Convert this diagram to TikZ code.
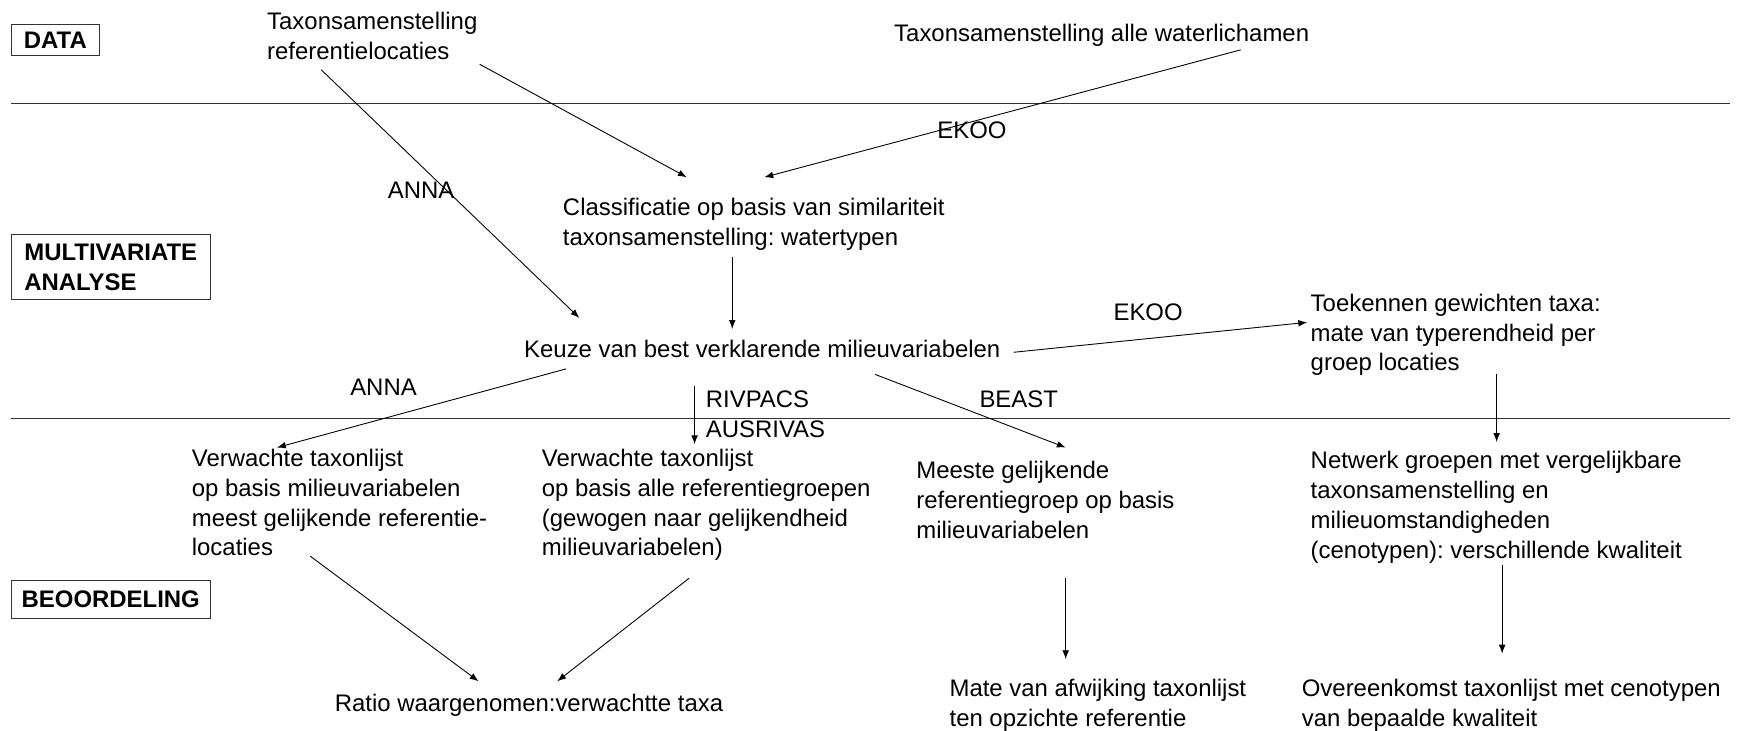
\documentclass[tikz,border=0pt]{standalone}
\usepackage{fontspec}
\setmainfont{Liberation Sans}
\usetikzlibrary{arrows.meta}
\frenchspacing
\begin{document}
\begin{tikzpicture}[x=1pt,y=-1pt,
  every node/.style={font=\fontsize{21.6}{27}\selectfont},
  txt/.style={anchor=north west,inner sep=0pt,align=left},
  lbl/.style={anchor=north west,inner sep=0pt,align=left},
  phase/.style={draw=black!80,line width=0.9pt,inner sep=0pt,align=left,font=\fontsize{21.6}{27}\selectfont\bfseries},
  sep/.style={draw=black!80,line width=0.9pt},
  arr/.style={draw=black,line width=0.8pt,-{Latex[length=8pt,width=6pt]}}]
\useasboundingbox (0,0) rectangle (1568,659);
% section lines
\coordinate (l1a) at (10,93); \coordinate (l1b) at (1562,93);
\coordinate (l2a) at (10,378); \coordinate (l2b) at (1562,378);
\draw[sep] (l1a) -- (l1b);
\draw[sep] (l2a) -- (l2b);
% phase boxes
\node[phase,minimum width=80,minimum height=28] (pdata) at (50,36) {DATA};
\node[phase,minimum width=180,minimum height=58] (pmva) at (100,241) {MULTIVARIATE\\ANALYSE};
\node[phase,minimum width=180,minimum height=34] (pbeo) at (100,541) {BEOORDELING};
% text nodes
\node[txt] (ref) at (241,11) {Taxonsamenstelling\\referentielocaties};
\node[txt] (alle) at (807,22) {Taxonsamenstelling alle waterlichamen};
\node[txt] (cls) at (508,179) {Classificatie op basis van similariteit\\taxonsamenstelling: watertypen};
\node[txt] (keuze) at (473,307) {Keuze van best verklarende milieuvariabelen};
\node[txt] (toek) at (1183,265) {Toekennen gewichten taxa:\\mate van typerendheid per\\groep locaties};
\node[txt] (v1) at (173,405) {Verwachte taxonlijst\\op basis milieuvariabelen\\meest gelijkende referentie-\\locaties};
\node[txt] (v2) at (489,405) {Verwachte taxonlijst\\op basis alle referentiegroepen\\(gewogen naar gelijkendheid\\milieuvariabelen)};
\node[txt] (meeste) at (827,416) {Meeste gelijkende\\referentiegroep op basis\\milieuvariabelen};
\node[txt] (netw) at (1183,407) {Netwerk groepen met vergelijkbare\\taxonsamenstelling en\\milieuomstandigheden\\(cenotypen): verschillende kwaliteit};
\node[txt] (ratio) at (302,626) {Ratio waargenomen:verwachtte taxa};
\node[txt] (mate) at (857,613) {Mate van afwijking taxonlijst\\ten opzichte referentie};
\node[txt] (over) at (1175,613) {Overeenkomst taxonlijst met cenotypen\\van bepaalde kwaliteit};
% method labels
\node[lbl] (ekoo1) at (846,110) {EKOO};
\node[lbl] (anna1) at (350,164) {ANNA};
\node[lbl] (ekoo2) at (1005,274) {EKOO};
\node[lbl] (anna2) at (316,342) {ANNA};
\node[lbl] (riv) at (637,353) {RIVPACS\\AUSRIVAS};
\node[lbl] (beast) at (884,353) {BEAST};
% connectors
\draw[arr] ([shift={(192,47)}]ref.north west) -- ([shift={(112,-19)}]cls.north west);
\draw[arr] ([shift={(49,52)}]ref.north west) -- ([shift={(50,-20)}]keuze.north west);
\draw[arr] ([shift={(313,23)}]alle.north west) -- ([shift={(182,-19)}]cls.north west);
\draw[arr] ([shift={(153,53)}]cls.north west) -- ([shift={(188,-10)}]keuze.north west);
\draw[arr] ([shift={(442,11)}]keuze.north west) -- ([shift={(-3,26)}]toek.north west);
\draw[arr] ([shift={(38,26)}]keuze.north west) -- ([shift={(77,-1)}]v1.north west);
\draw[arr] ([shift={(154,41)}]keuze.north west) -- ([shift={(138,-4)}]v2.north west);
\draw[arr] ([shift={(317,31)}]keuze.north west) -- ([shift={(135,-12)}]meeste.north west);
\draw[arr] ([shift={(168,73)}]toek.north west) -- ([shift={(168,-8)}]netw.north west);
\draw[arr] ([shift={(107,97)}]v1.north west) -- ([shift={(130,-11)}]ratio.north west);
\draw[arr] ([shift={(133,117)}]v2.north west) -- ([shift={(201,-11)}]ratio.north west);
\draw[arr] ([shift={(135,106)}]meeste.north west) -- ([shift={(105,-18)}]mate.north west);
\draw[arr] ([shift={(173,103)}]netw.north west) -- ([shift={(181,-23)}]over.north west);
\end{tikzpicture}
\end{document}
